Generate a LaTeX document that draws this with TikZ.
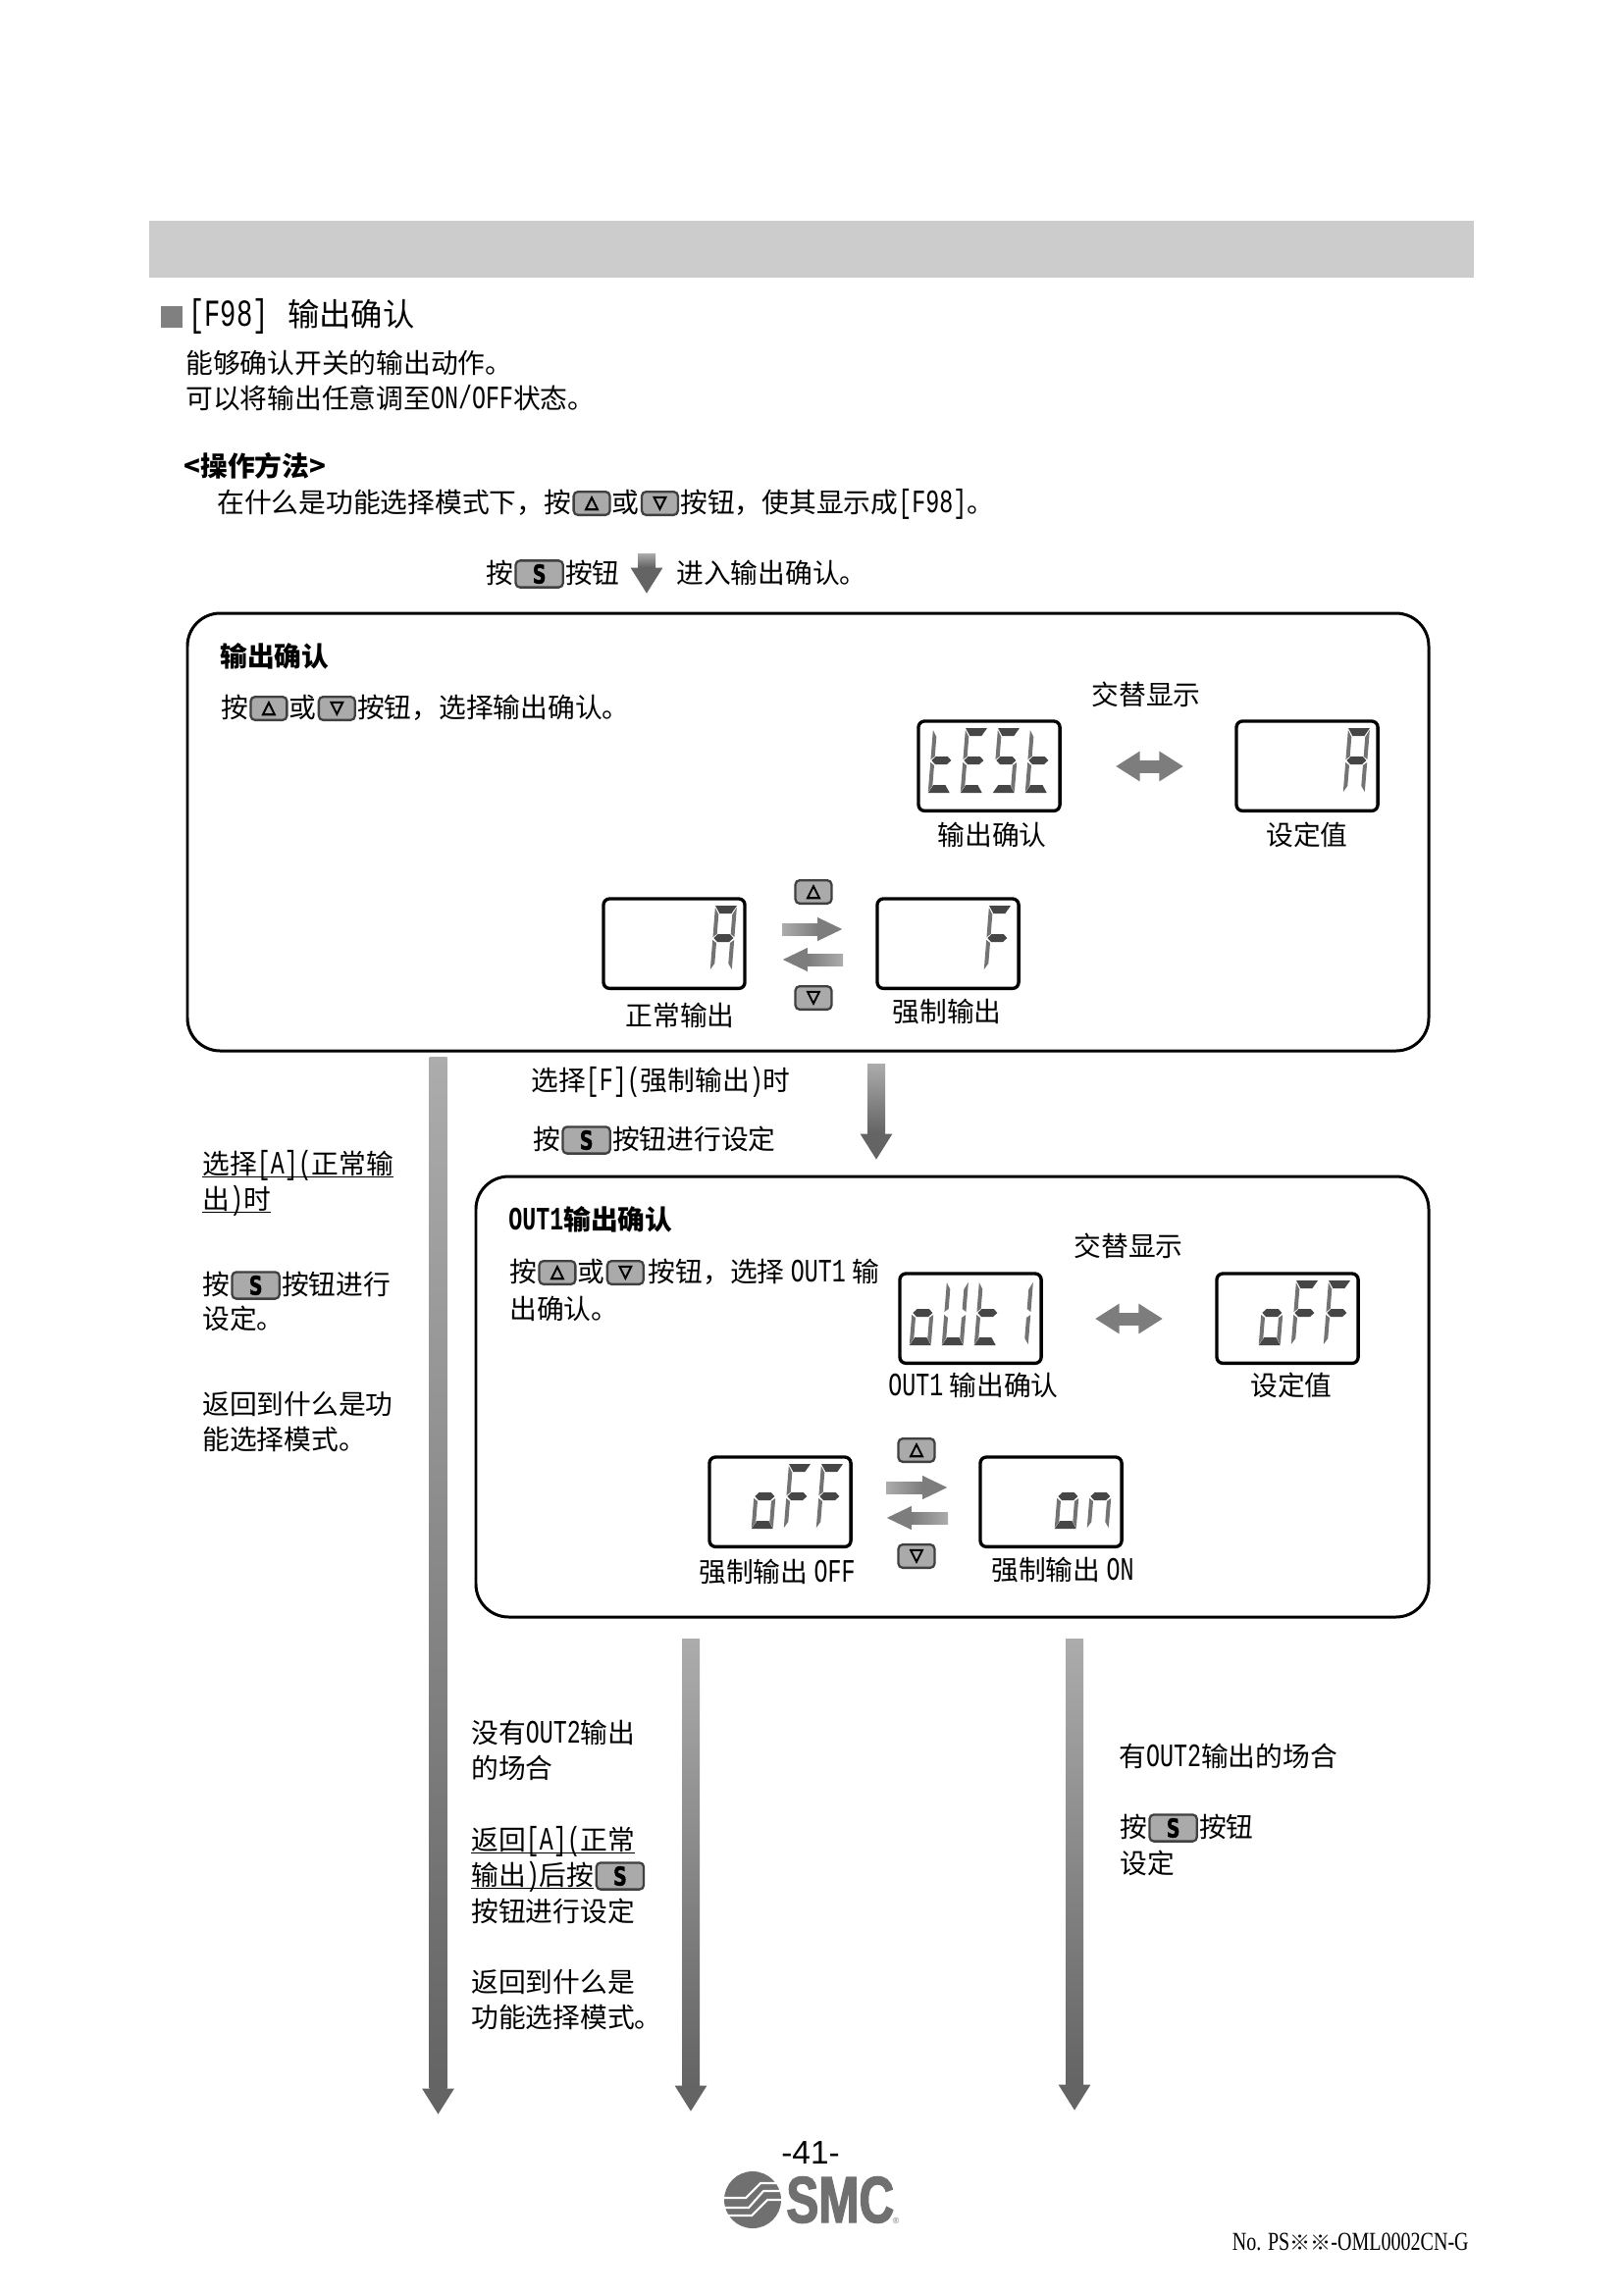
\documentclass[tikz,border=0pt]{standalone}
\usepackage{fontspec}
\usepackage{xcolor}
\usetikzlibrary{arrows.meta, positioning, calc}
\setmainfont{Noto Sans CJK SC}
\newfontfamily\hwfont[Scale=1.2,FakeStretch=0.7]{Liberation Mono}
\newfontfamily\symfont[FakeBold=6]{DejaVu Sans}
\newfontfamily\keyfont[FakeStretch=0.72,FakeBold=1.5]{DejaVu Sans}
\newfontfamily\logofont[FakeStretch=0.74,FakeBold=2]{Liberation Sans}
\newfontfamily\pagefont{Liberation Sans}
\newfontfamily\docfont[FakeStretch=0.76]{Liberation Serif}
\newcommand{\hw}[1]{{\hwfont #1}}
\newcommand{\txtul}[1]{\underline{\raisebox{0pt}[1em][0pt]{#1}}}
\definecolor{barcolor}{RGB}{204, 204, 204}
\definecolor{flowtop}{RGB}{172, 172, 172}
\definecolor{flowend}{RGB}{100, 100, 100}
\definecolor{swaptop}{RGB}{172, 172, 172}
\definecolor{swapend}{RGB}{125, 125, 125}
\definecolor{keyfill}{RGB}{170, 170, 170}
\definecolor{segdark}{RGB}{70, 70, 70}
\definecolor{seglite}{RGB}{115, 115, 115}
\definecolor{logogray}{RGB}{112, 112, 112}

% segments of one display digit, cell 24 x 66
\newcommand{\sega}{\fill[segdark] (5,0) -- (27,0) -- (22,8) -- (10,8) -- cycle;}
\newcommand{\segb}{\fill[seglite] (27,2) -- (23,9) -- (23,29) -- (27,32) -- cycle;}
\newcommand{\segc}{\fill[seglite] (27,35) -- (23,38) -- (23,59) -- (27,65) -- cycle;}
\newcommand{\segd}{\fill[segdark] (10,58) -- (22,58) -- (27,66) -- (5,66) -- cycle;}
\newcommand{\sege}{\fill[seglite] (5,35) -- (9,38) -- (9,59) -- (5,65) -- cycle;}
\newcommand{\segf}{\fill[seglite] (5,2) -- (9,9) -- (9,29) -- (5,32) -- cycle;}
\newcommand{\segg}{\fill[segdark] (10,29) -- (22,29) -- (26,33) -- (22,37) -- (10,37) -- (6,33) -- cycle;}
\newcommand{\lcddigit}[3]{%
  \begin{scope}[shift={($(#1.north west)+(#2,7)$)}, xslant=0.08]
    \foreach \s in {#3}{\csname seg\s\endcsname}
  \end{scope}}
% shaded flow arrows between named points
\newcommand{\vflow}[2]{%
  \draw[line width=9.6pt, flowend, -{Triangle[length=15pt, width=17.5pt]}] (#1) -- (#2);
  \shade[top color=flowtop, bottom color=flowend] ($(#1)+(-9,0)$) rectangle ($(#2)+(9,-27)$);}
\newcommand{\hflow}[4]{%
  \draw[line width=6.8pt, swapend, -{Triangle[length=14.7pt, width=12.5pt]}] (#1) -- (#2);
  \shade[#4] ($(#1)+(0,-6)$) rectangle ($(#2)+(#3,6)$);}
\newcommand{\dflow}[2]{%
  \draw[line width=6.8pt, swapend, {Triangle[length=14pt, width=16.5pt]}-{Triangle[length=14pt, width=16.5pt]}] (#1) -- (#2);
  \shade[left color=swapend, middle color=swaptop, right color=swapend] ($(#1)+(24,-6)$) rectangle ($(#2)+(-24,6)$);}

\begin{document}
\begin{tikzpicture}[
  x=0.02cm, y=-0.02cm,
  every node/.style={font=\fontsize{15.8}{18}\selectfont},
  txt/.style={anchor=west, inner sep=0pt, text height=1.1em, text depth=0pt},
  mid/.style={txt, anchor=center},
  title/.style={txt, font=\fontsize{15.8}{18}\selectfont\bfseries},
  keybtn/.style={draw=black!75, fill=keyfill, line width=1.3pt, rounded corners=2.5pt, inner sep=0pt, minimum width=21pt, minimum height=13.5pt, font=\fontsize{10}{10}\selectfont\symfont},
  keyup/.style={keybtn},
  keydown/.style={keybtn},
  keys/.style={keybtn, minimum width=27.5pt, minimum height=15.5pt, font=\fontsize{15}{15}\selectfont\keyfont\bfseries},
  lcd/.style={draw=black, line width=1.9pt, rounded corners=3.5pt, fill=white, anchor=north west, minimum width=82pt, minimum height=52pt, inner sep=0pt, outer sep=0pt},
  panel/.style={draw=black, line width=1.7pt, rounded corners=19pt}
]
  \useasboundingbox (0,0) rectangle (1654,2339);

  % Header
  \fill[barcolor] (152,225) rectangle (1502,283);
  \fill[gray] (164,312) rectangle (186,334);
  \node[txt, font=\fontsize{18.4}{20}\selectfont] (head) at (192,323) {\hw{[F98]} \hspace{6.8pt}输出确认};
  \node[txt] (intro1) at (189,371) {能够确认开关的输出动作。};
  \node[txt] (intro2) at (189,407) {可以将输出任意调至\hw{ON/OFF}状态。};
  \node[title] (method) at (187,476) {<操作方法>};
  \node[txt] (how1) at (221,513) {在什么是功能选择模式下，按};
  \node[keyup, right=0.5pt of how1] (howup) {△};
  \node[txt, right=0.5pt of howup] (how2) {或};
  \node[keydown, right=0.5pt of how2] (howdn) {▽};
  \node[txt, right=0.5pt of howdn] (how3) {按钮，使其显示成\hw{[F98]}。};
  \node[txt] (enter1) at (495,585) {按};
  \node[keys, right=0.5pt of enter1] (enters) {S};
  \node[txt, right=0.5pt of enters] (enter2) {按钮};
  \node[txt] (enter3) at (689,585) {进入输出确认。};
  \coordinate (enterA) at (659,564);
  \coordinate (enterB) at (659,605);
  \vflow{enterA}{enterB}

  % Output check panel
  \draw[panel] (191,625) rectangle (1456,1071);
  \node[title] (checkt) at (224,670) {输出确认};
  \node[txt] (chk1) at (225,722) {按};
  \node[keyup, right=0.5pt of chk1] (chkup) {△};
  \node[txt, right=0.5pt of chkup] (chk2) {或};
  \node[keydown, right=0.5pt of chk2] (chkdn) {▽};
  \node[txt, right=0.5pt of chkdn] (chk3) {按钮，选择输出确认。};

  \node[mid] (alt1) at (1168,709) {交替显示};
  \node[lcd] (test) at (936,735) {};
  \node[lcd] (setA) at (1260,735) {};
  \lcddigit{test}{10}{f,e,g,d}
  \lcddigit{test}{43}{a,f,g,e,d}
  \lcddigit{test}{76}{a,f,g,c,d}
  \lcddigit{test}{109}{f,e,g,d}
  \lcddigit{setA}{109}{a,b,c,e,f,g}
  \node[mid] (testl) at (1011,852) {输出确认};
  \node[mid] (setAl) at (1332,852) {设定值};
  \coordinate (alt1a) at (1137,781);
  \coordinate (alt1b) at (1206,781);
  \dflow{alt1a}{alt1b}

  \node[lcd] (normal) at (615,916) {};
  \node[lcd] (forced) at (894,916) {};
  \lcddigit{normal}{109}{a,b,c,e,f,g}
  \lcddigit{forced}{109}{a,f,g,e}
  \node[mid] (normall) at (693,1036) {正常输出};
  \node[mid] (forcedl) at (965,1032) {强制输出};
  \node[keyup] (nfup) at (829,909) {△};
  \node[keydown] (nfdn) at (829,1017) {▽};
  \coordinate (nfr1) at (797,947);
  \coordinate (nfr2) at (859,947);
  \coordinate (nfl1) at (859,978);
  \coordinate (nfl2) at (797,978);
  \hflow{nfr1}{nfr2}{-26}{left color=swaptop, right color=swapend}
  \hflow{nfl1}{nfl2}{26}{left color=swapend, right color=swaptop}

  % Branch to OUT1
  \node[txt] (fsel) at (541,1102) {选择\hw{[F](}强制输出\hw{)}时};
  \node[txt] (fset1) at (543,1162) {按};
  \node[keys, right=0.5pt of fset1] (fsets) {S};
  \node[txt, right=0.5pt of fsets] (fset2) {按钮进行设定};
  \coordinate (fA) at (893,1084);
  \coordinate (fB) at (893,1182);
  \vflow{fA}{fB}

  % Return path on the left
  \coordinate (retA) at (446.5,1077);
  \coordinate (retB) at (446.5,2155);
  \vflow{retA}{retB}
  \node[txt] (ret1) at (206,1187) {\txtul{选择\hw{[A](}正常输}};
  \node[txt] (ret2) at (206,1223) {\txtul{出\hw{)}时}};
  \node[txt] (ret3) at (206,1310) {按};
  \node[keys, right=0.5pt of ret3] (rets) {S};
  \node[txt, right=0.5pt of rets] (ret4) {按钮进行};
  \node[txt] (ret5) at (206,1345) {设定。};
  \node[txt] (ret6) at (206,1432) {返回到什么是功};
  \node[txt] (ret7) at (206,1468) {能选择模式。};

  % OUT1 panel
  \draw[panel] (485,1199) rectangle (1456,1648);
  \node[title] (out1t) at (518,1244) {\hw{OUT1}输出确认};
  \node[txt] (oc1) at (519,1297) {按};
  \node[keyup, right=0.5pt of oc1] (ocup) {△};
  \node[txt, right=0.5pt of ocup] (oc2) {或};
  \node[keydown, right=0.5pt of oc2] (ocdn) {▽};
  \node[txt, right=2pt of ocdn] (oc3) {按钮，选择 \hw{OUT1} 输};
  \node[txt] (oc4) at (519,1335) {出确认。};

  \node[mid] (alt2) at (1150,1271) {交替显示};
  \node[lcd] (out1) at (917,1298) {};
  \node[lcd] (setoff) at (1240,1298) {};
  \lcddigit{out1}{10}{g,e,c,d}
  \lcddigit{out1}{43}{b,c,d,e,f}
  \lcddigit{out1}{76}{f,e,g,d}
  \lcddigit{out1}{109}{b,c}
  \lcddigit{setoff}{43}{g,e,c,d}
  \lcddigit{setoff}{76}{a,f,g,e}
  \lcddigit{setoff}{109}{a,f,g,e}
  \node[mid] (out1l) at (992,1413) {\hw{OUT1} 输出确认};
  \node[mid] (setoffl) at (1316,1413) {设定值};
  \coordinate (alt2a) at (1116,1344);
  \coordinate (alt2b) at (1185,1344);
  \dflow{alt2a}{alt2b}

  \node[lcd] (foff) at (723,1485) {};
  \node[lcd] (fon) at (999,1485) {};
  \lcddigit{foff}{43}{g,e,c,d}
  \lcddigit{foff}{76}{a,f,g,e}
  \lcddigit{foff}{109}{a,f,g,e}
  \lcddigit{fon}{76}{g,e,c,d}
  \lcddigit{fon}{109}{g,e,c}
  \node[mid] (foffl) at (792,1603) {强制输出 \hw{OFF}};
  \node[mid] (fonl) at (1083,1601) {强制输出 \hw{ON}};
  \node[keyup] (ofup) at (934,1478) {△};
  \node[keydown] (ofdn) at (934,1586) {▽};
  \coordinate (ofr1) at (903,1516);
  \coordinate (ofr2) at (966,1516);
  \coordinate (ofl1) at (966,1547);
  \coordinate (ofl2) at (903,1547);
  \hflow{ofr1}{ofr2}{-26}{left color=swaptop, right color=swapend}
  \hflow{ofl1}{ofl2}{26}{left color=swapend, right color=swaptop}

  % Exits below the OUT1 panel
  \coordinate (noA) at (704,1670);
  \coordinate (noB) at (704,2152);
  \vflow{noA}{noB}
  \coordinate (yesA) at (1095,1670);
  \coordinate (yesB) at (1095,2151);
  \vflow{yesA}{yesB}
  \node[txt] (no1) at (480,1767) {没有\hw{OUT2}输出};
  \node[txt] (no2) at (480,1803) {的场合};
  \node[txt] (no3) at (480,1876) {\txtul{返回\hw{[A](}正常}};
  \node[txt] (no4) at (480,1912) {\txtul{输出\hw{)}后按}};
  \node[keys, right=0.5pt of no4] (nos) {S};
  \node[txt] (no5) at (480,1949) {按钮进行设定};
  \node[txt] (no6) at (480,2021) {返回到什么是};
  \node[txt] (no7) at (480,2057) {功能选择模式。};
  \node[txt] (yes1) at (1140,1791) {有\hw{OUT2}输出的场合};
  \node[txt] (yes2) at (1141,1863) {按};
  \node[keys, right=0.5pt of yes2] (yess) {S};
  \node[txt, right=0.5pt of yess] (yes3) {按钮};
  \node[txt] (yes4) at (1141,1900) {设定};

  % Footer
  \node[anchor=center, inner sep=0pt, font=\fontsize{19}{20}\selectfont\pagefont] (page) at (826,2194) {-41-};
  \fill[logogray] (767,2242) ellipse [x radius=29, y radius=29];
  \draw[white, line width=1.2pt] (738,2240) -- (760,2240) -- (775,2225) -- (793,2225);
  \draw[white, line width=1.2pt] (738,2250) -- (763,2250) -- (778,2233) -- (796,2233);
  \draw[white, line width=1.2pt] (740,2258) -- (766,2258) -- (782,2242) -- (796,2242);
  \node[anchor=west, inner sep=0pt, text=logogray, font=\fontsize{38}{38}\selectfont\logofont\bfseries] (smc) at (801,2242) {SMC};
  \node[anchor=center, inner sep=0pt, text=logogray, font=\fontsize{5}{5}\selectfont\pagefont] (reg) at (913,2263) {®};
  \node[anchor=east, inner sep=0pt, font=\fontsize{15}{16}\selectfont\docfont] (docno) at (1497,2285) {No. PS{\fontsize{12}{13}\selectfont\rmfamily ※※}-OML0002CN-G};
\end{tikzpicture}
\end{document}
